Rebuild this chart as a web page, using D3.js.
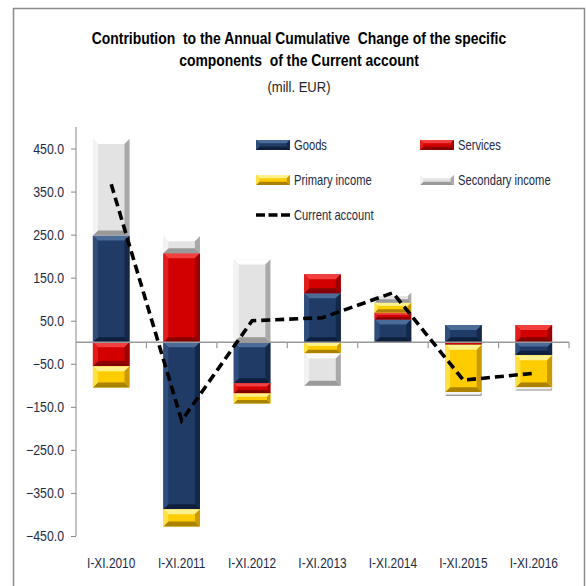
<!DOCTYPE html>
<html><head><meta charset="utf-8">
<script src="https://cdn.jsdelivr.net/npm/d3@7"></script>
<style>body{margin:0;background:#fff}svg{display:block}</style>
</head><body>
<svg id="c" width="586" height="586"></svg>
<script>
const categories = ["I-XI.2010","I-XI.2011","I-XI.2012","I-XI.2013","I-XI.2014","I-XI.2015","I-XI.2016"];
const goods     = [248, -388, -95, 114, 53, 40, -30];
const services  = [-56, 207, -24, 44, 16, -6, 40];
const primary   = [-49, -40, -23, -26, 23, -110, -75];
const secondary = [224, 39, 192, -75, 23, -9, -7];
const currentAccount = [367, -182, 50, 57, 115, -88, -72];
const yTicks = [450, 350, 250, 150, 50, -50, -150, -250, -350, -450];
const seriesNames = ["Goods","Services","Primary income","Secondary income"];

const FONT = "'Liberation Sans',Arial,sans-serif";
const TXT = "#1c2a45";
const svg = d3.select("#c");
const pal = {
  "Goods":{base:"#1f3b66",top:"#4b6b99",left:"#2f4e7d",right:"#132848",bottom:"#0e1f3d"},
  "Services":{base:"#d20000",top:"#f24040",left:"#e31c1c",right:"#9c0000",bottom:"#860000"},
  "Primary income":{base:"#ffcc00",top:"#fff28c",left:"#ffe045",right:"#c99b00",bottom:"#aa8200"},
  "Secondary income":{base:"#e3e3e3",top:"#ffffff",left:"#f3f3f3",right:"#a9a9a9",bottom:"#9a9a9a"}
};

function ctext(g, str, px, py, opts){
  const o = Object.assign({size:14, sx:0.85, anchor:"start", weight:"normal", fill:TXT}, opts||{});
  return g.append("text").attr("transform",`translate(${px},${py}) scale(${o.sx},1)`)
    .attr("text-anchor",o.anchor).attr("font-family",FONT).attr("font-size",o.size)
    .attr("font-weight",o.weight).attr("fill",o.fill).text(str);
}

// frame
svg.append("path").attr("d","M13.5,586 V8.5 H584.5 V586").attr("fill","none").attr("stroke","#8c8c8c").attr("stroke-width",1.5);

// title
ctext(svg,"Contribution  to the Annual Cumulative  Change of the specific",299,44,{size:16,weight:"bold",anchor:"middle",fill:"#000",sx:0.87}).attr("xml:space","preserve");
ctext(svg,"components  of the Current account",299,66,{size:16,weight:"bold",anchor:"middle",fill:"#000",sx:0.87}).attr("xml:space","preserve");
ctext(svg,"(mill. EUR)",299,92,{size:15,anchor:"middle",fill:"#222",sx:0.87});

const x = d3.scaleBand().domain(categories).range([76,569]).paddingInner(0.48).paddingOuter(0.24);
const y = d3.scaleLinear().domain([-450,500]).range([536,127]);

function bevel(g, x0, x1, yT, yB, c){
  const h = yB - yT; if (h <= 0.3) return;
  const b = Math.min(5, h/3, (x1-x0)/3);
  g.append("rect").attr("x",x0).attr("y",yT).attr("width",x1-x0).attr("height",h).attr("fill",c.base);
  const poly = (pts,f)=>g.append("polygon").attr("points",pts.map(p=>p.join(",")).join(" ")).attr("fill",f);
  poly([[x0,yT],[x1,yT],[x1-b,yT+b],[x0+b,yT+b]], c.top);
  poly([[x0,yB],[x1,yB],[x1-b,yB-b],[x0+b,yB-b]], c.bottom);
  poly([[x0,yT],[x0+b,yT+b],[x0+b,yB-b],[x0,yB]], c.left);
  poly([[x1,yT],[x1-b,yT+b],[x1-b,yB-b],[x1,yB]], c.right);
}

// bars
const data = [goods, services, primary, secondary];
const gBars = svg.append("g");
categories.forEach((cat,i)=>{
  let pos = 0, neg = 0;
  data.forEach((arr,s)=>{
    const v = arr[i]; let a, b2;
    if (v >= 0){ a = pos; b2 = pos + v; pos = b2; } else { a = neg; b2 = neg + v; neg = b2; }
    const yT = y(Math.max(a,b2)), yB = y(Math.min(a,b2));
    bevel(gBars, x(cat), x(cat)+x.bandwidth(), yT, yB, pal[seriesNames[s]]);
  });
});

// y axis
const yAxis = d3.axisLeft(y).tickValues(yTicks).tickSize(5).tickFormat("");
const ga = svg.append("g").attr("transform","translate(76,0)").call(yAxis);
ga.select(".domain").attr("stroke","#888").attr("d","M0,127V536");
ga.selectAll(".tick line").attr("stroke","#888");
const fmt = d3.format(".1f");
yTicks.forEach(v=>ctext(svg, fmt(v), 64, y(v)+5, {anchor:"end", sx:0.88}));

// x axis at zero
const xb = d3.scaleLinear().domain([0,categories.length]).range([76,569]);
const gx = svg.append("g");
gx.append("line").attr("x1",76).attr("x2",569).attr("y1",y(0)).attr("y2",y(0)).attr("stroke","#999").attr("stroke-width",1.5);
d3.range(1,categories.length+1).forEach(k=>{
  gx.append("line").attr("x1",xb(k)).attr("x2",xb(k)).attr("y1",y(0)).attr("y2",y(0)+6).attr("stroke","#999").attr("stroke-width",1.2);
});
categories.forEach(c=>ctext(svg, c, x(c)+x.bandwidth()/2, 568, {anchor:"middle"}));

// current account line
const line = d3.line().x((d,i)=>x(categories[i])+x.bandwidth()/2).y(d=>y(d));
svg.append("path").datum(currentAccount).attr("d",line).attr("fill","none")
  .attr("stroke","#000").attr("stroke-width",3.6).attr("stroke-dasharray","9,5");

// legend
const leg = [
  {n:"Goods",x:256,y:145},{n:"Services",x:420,y:145},
  {n:"Primary income",x:256,y:180},{n:"Secondary income",x:420,y:180}
];
const gl = svg.append("g");
leg.forEach(d=>{
  bevel(gl, d.x, d.x+34, d.y-5, d.y+5, pal[d.n]);
  ctext(gl, d.n, d.x+38, d.y+5, {sx:0.8});
});
gl.append("line").attr("x1",256).attr("x2",290).attr("y1",215).attr("y2",215).attr("stroke","#000").attr("stroke-width",3.6).attr("stroke-dasharray","9,3.5");
ctext(gl, "Current account", 294, 220, {sx:0.8});
</script>
</body></html>
